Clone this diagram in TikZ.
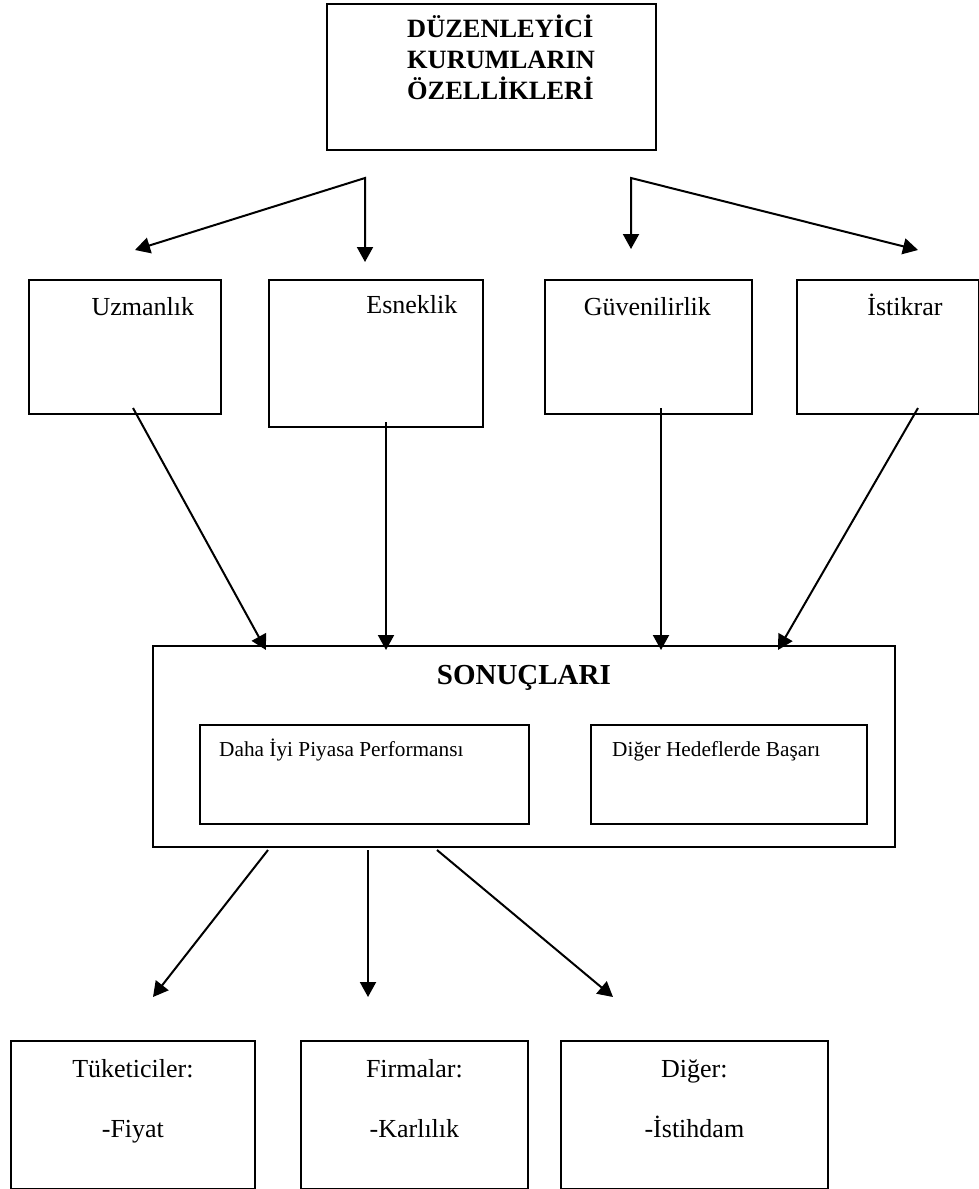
\documentclass[tikz,border=0pt]{standalone}
\usepackage{fontspec}
\setmainfont{Liberation Serif}
\usetikzlibrary{arrows.meta}
\tikzset{
  box/.style={draw, line width=1.8pt, inner sep=0pt, anchor=north west},
  txt/.style={font=\fontsize{26}{31}\selectfont, inner sep=0pt, anchor=base},
  small/.style={font=\fontsize{21.3}{25}\selectfont, inner sep=0pt, anchor=base west},
  ttl/.style={font=\fontsize{26.4}{31}\selectfont\bfseries, inner sep=0pt, align=left, anchor=north west},
  arr/.style={line width=2pt, line join=miter, -{Triangle[length=15pt,width=16pt]}},
  twoarr/.style={line width=2pt, line join=miter, {Triangle[length=15pt,width=16pt]}-{Triangle[length=15pt,width=16pt]}}
}
\begin{document}
\begin{tikzpicture}[x=1pt,y=-1pt]
  \useasboundingbox (0,0) rectangle (979,1189);
  %% Rows, in pixels of the page
  \pgfmathsetmacro{\rowTwoTop}{279}
  \pgfmathsetmacro{\resultTop}{645}
  \pgfmathsetmacro{\rowThreeTop}{1040}
  %% Title block
  \node[box, minimum width=329pt, minimum height=146pt,
    label={[ttl, xshift=81pt, yshift=-12pt]north west:{DÜZENLEYİCİ\\KURUMLARIN\\ÖZELLİKLERİ}}] (title) at (326,3) {};
  %% Four properties
  \node[box, minimum width=192pt, minimum height=134pt,
    label={[txt, xshift=18pt, yshift=-36pt]north:Uzmanlık}] (uzm) at (28,\rowTwoTop) {};
  \node[box, minimum width=214pt, minimum height=147pt,
    label={[txt, xshift=36pt, yshift=-34pt]north:Esneklik}] (esn) at (268,\rowTwoTop) {};
  \node[box, minimum width=207pt, minimum height=134pt,
    label={[txt, xshift=-1pt, yshift=-36pt]north:Güvenilirlik}] (guv) at (544,\rowTwoTop) {};
  \node[box, minimum width=182pt, minimum height=134pt,
    label={[txt, xshift=17pt, yshift=-36pt]north:İstikrar}] (ist) at (796,\rowTwoTop) {};
  %% Results
  \node[box, minimum width=742pt, minimum height=201pt,
    label={[txt, font=\fontsize{29}{34}\selectfont\bfseries, yshift=-39pt]north:SONUÇLARI}] (sonuc) at (152,\resultTop) {};
  \node[box, minimum width=329pt, minimum height=99pt,
    label={[small, xshift=20pt, yshift=-32pt]north west:{Daha İyi Piyasa Performansı}}] (piyasa) at (199,724) {};
  \node[box, minimum width=276pt, minimum height=99pt,
    label={[small, xshift=22pt, yshift=-32pt]north west:{Diğer Hedeflerde Başarı}}] (hedef) at (590,724) {};
  %% Who gains
  \node[box, minimum width=244pt, minimum height=148pt,
    label={[txt, yshift=-37pt]north:{Tüketiciler:}},
    label={[txt, yshift=-97pt]north:{-Fiyat}}] (tuk) at (10,\rowThreeTop) {};
  \node[box, minimum width=227pt, minimum height=148pt,
    label={[txt, yshift=-37pt]north:{Firmalar:}},
    label={[txt, yshift=-97pt]north:{-Karlılık}}] (firma) at (300,\rowThreeTop) {};
  \node[box, minimum width=267pt, minimum height=148pt,
    label={[txt, yshift=-37pt]north:{Diğer:}},
    label={[txt, yshift=-97pt]north:{-İstihdam}}] (diger) at (560,\rowThreeTop) {};
  %% Arrow ends
  \coordinate (splitL) at (365,178);
  \coordinate (splitR) at (631,178);
  \coordinate (toUzm) at (135,250);
  \coordinate (toEsn) at (365,262);
  \coordinate (toGuv) at (631,249);
  \coordinate (toIst) at (918,250);
  \coordinate (fromUzm) at (133,408);
  \coordinate (fromEsn) at (386,422);
  \coordinate (fromGuv) at (661,408);
  \coordinate (fromIst) at (918,408);
  \coordinate (atUzm) at (266,650);
  \coordinate (atEsn) at (386,650);
  \coordinate (atGuv) at (661,650);
  \coordinate (atIst) at (778,650);
  \coordinate (outTuk) at (268,850);
  \coordinate (outFirma) at (368,850);
  \coordinate (outDiger) at (437,850);
  \coordinate (toTuk) at (153,997);
  \coordinate (toFirma) at (368,997);
  \coordinate (toDiger) at (613,997);
  %% Arrows
  \draw[twoarr] (toUzm) -- (splitL) -- (toEsn);
  \draw[twoarr] (toGuv) -- (splitR) -- (toIst);
  \draw[arr] (fromUzm) -- (atUzm);
  \draw[arr] (fromEsn) -- (atEsn);
  \draw[arr] (fromGuv) -- (atGuv);
  \draw[arr] (fromIst) -- (atIst);
  \draw[arr] (outTuk) -- (toTuk);
  \draw[arr] (outFirma) -- (toFirma);
  \draw[arr] (outDiger) -- (toDiger);
\end{tikzpicture}
\end{document}
